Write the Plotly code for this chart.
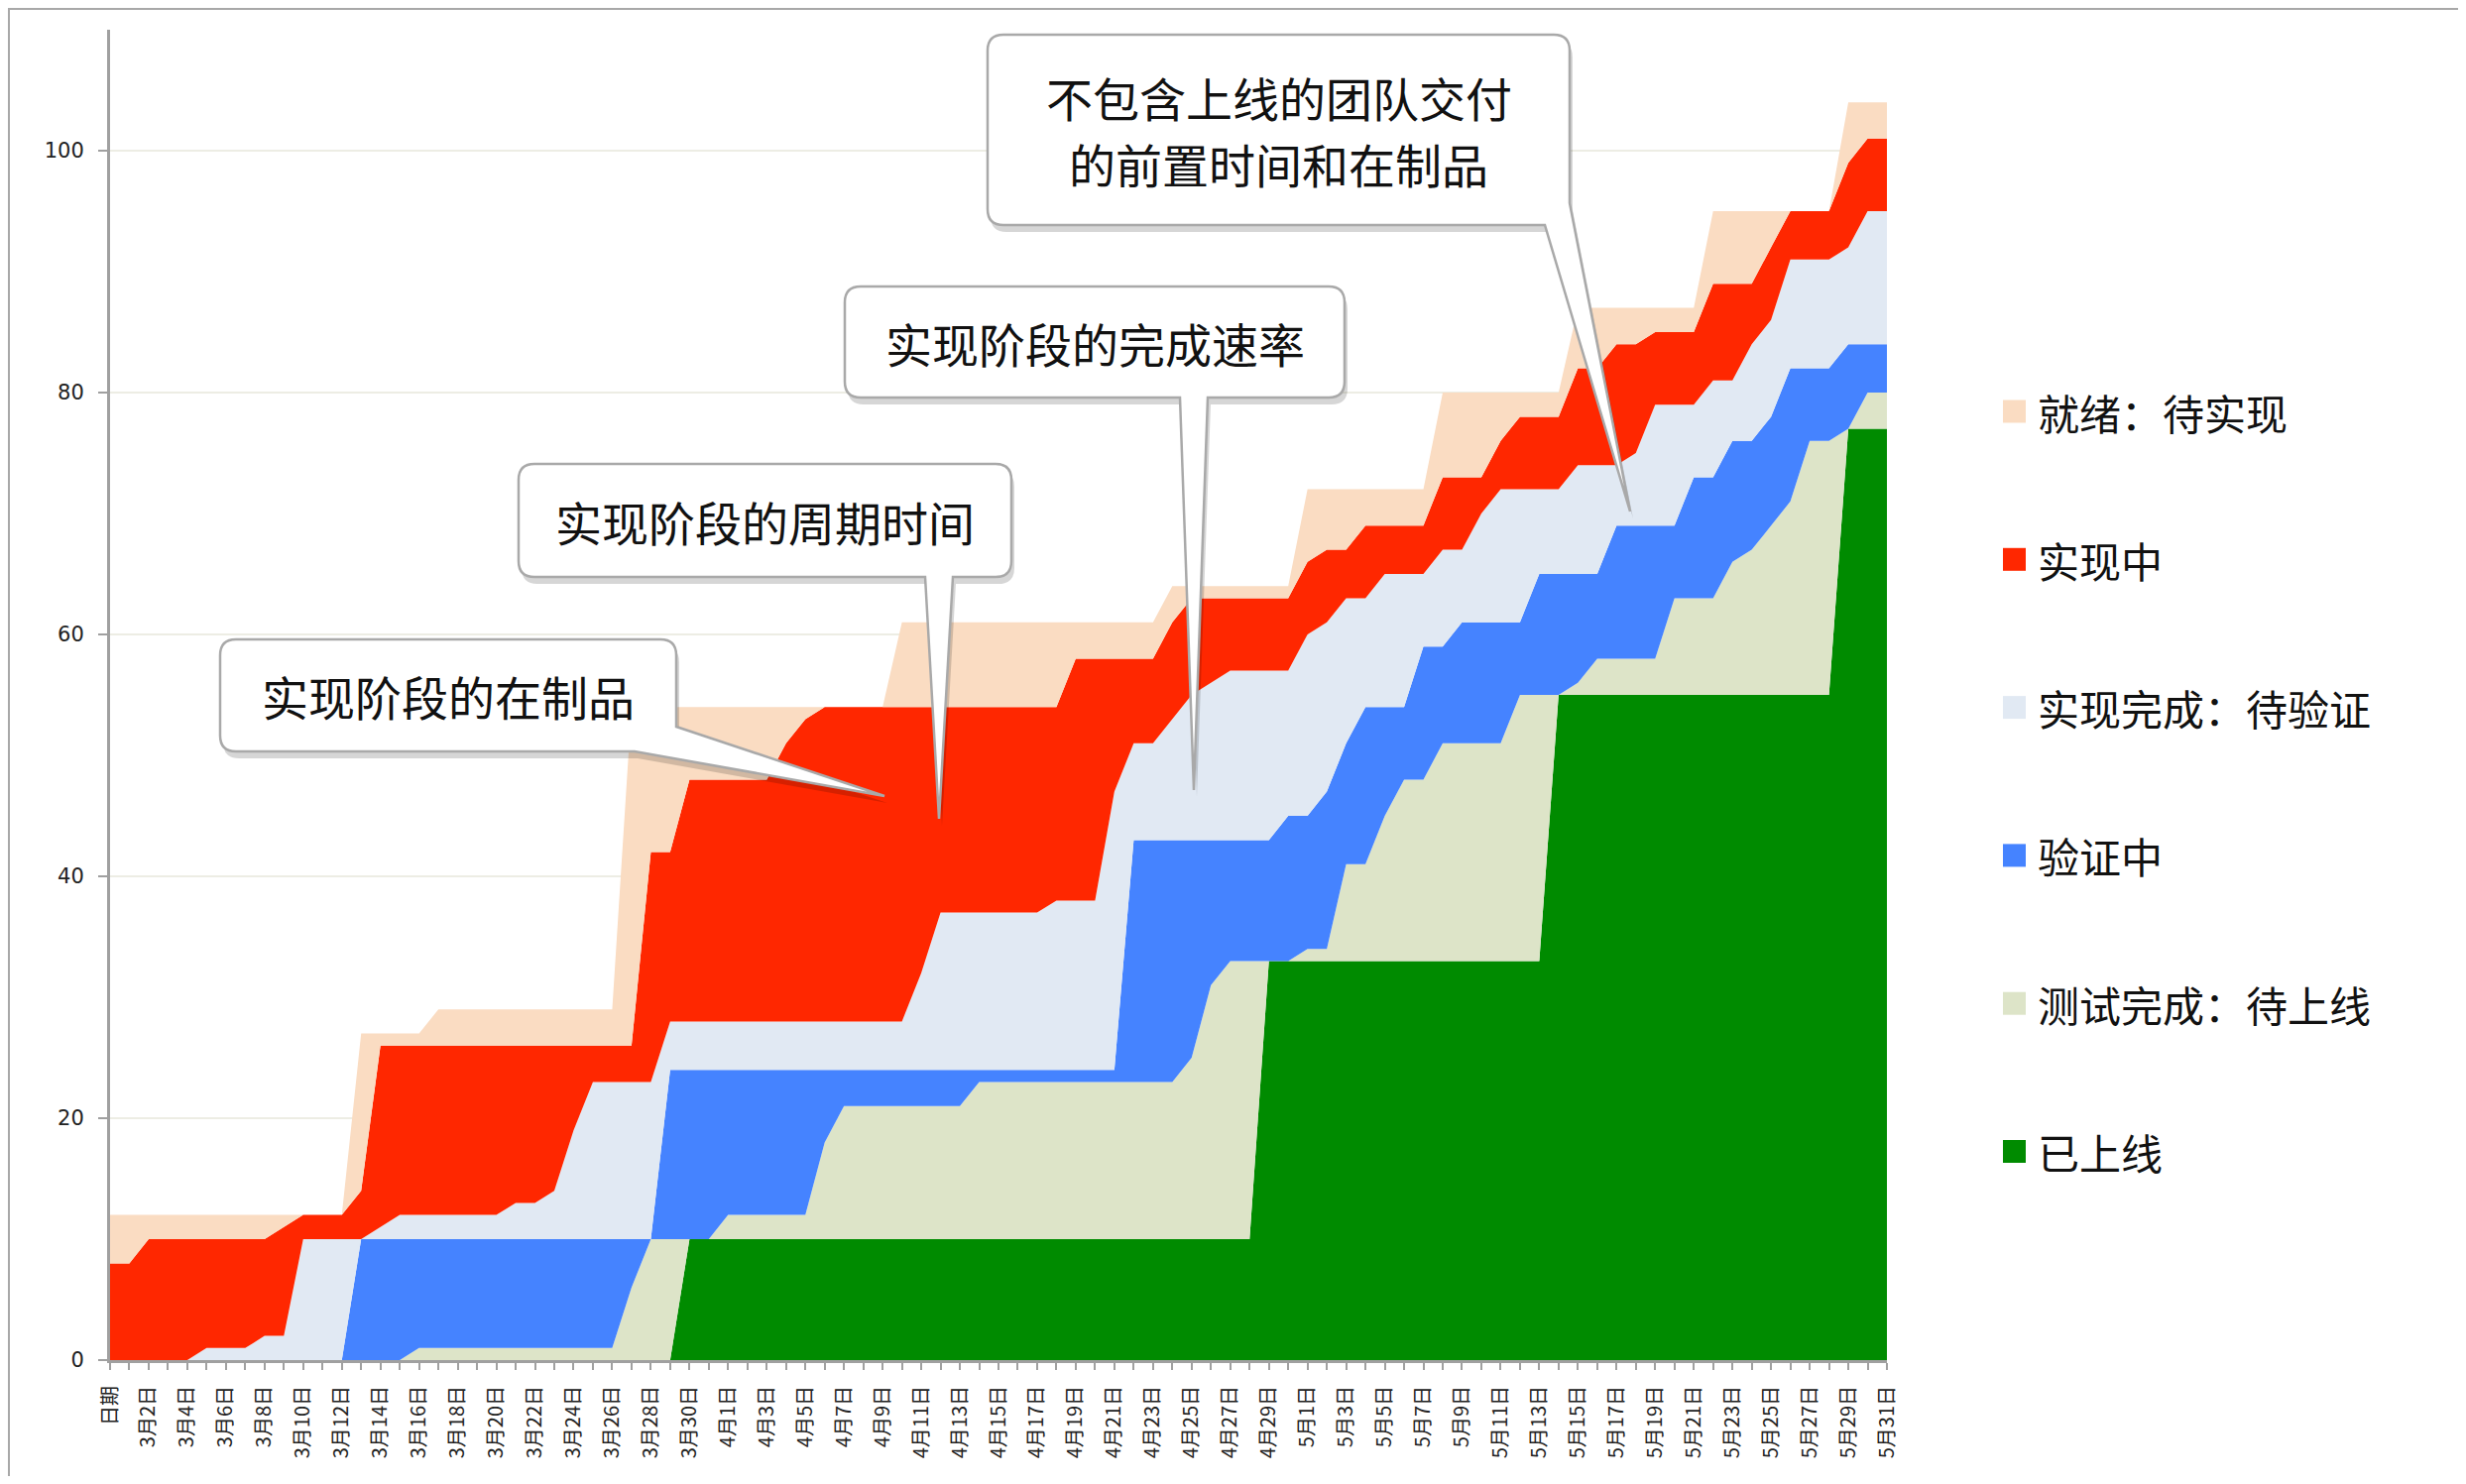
import plotly.graph_objects as go

# x categories: header cell + one entry per day
days = (["日期"]
        + [f"3月{d}日" for d in range(1, 32)]
        + [f"4月{d}日" for d in range(1, 31)]
        + [f"5月{d}日" for d in range(1, 32)])

# cumulative counts per stage (top edge of each band)
deployed = [0, 0, 0, 0, 0, 0, 0, 0, 0, 0,
            0, 0, 0, 0, 0, 0, 0, 0, 0, 0,
            0, 0, 0, 0, 0, 0, 0, 0, 0, 0,
            10, 10, 10, 10, 10, 10, 10, 10, 10, 10,
            10, 10, 10, 10, 10, 10, 10, 10, 10, 10,
            10, 10, 10, 10, 10, 10, 10, 10, 10, 10,
            33, 33, 33, 33, 33, 33, 33, 33, 33, 33,
            33, 33, 33, 33, 33, 55, 55, 55, 55, 55,
            55, 55, 55, 55, 55, 55, 55, 55, 55, 55,
            77, 77, 77]
tested = [0, 0, 0, 0, 0, 0, 0, 0, 0, 0,
          0, 0, 0, 0, 0, 0, 1, 1, 1, 1,
          1, 1, 1, 1, 1, 1, 1, 6, 10, 10,
          10, 10, 12, 12, 12, 12, 12, 18, 21, 21,
          21, 21, 21, 21, 21, 23, 23, 23, 23, 23,
          23, 23, 23, 23, 23, 23, 25, 31, 33, 33,
          33, 33, 34, 34, 41, 41, 45, 48, 48, 51,
          51, 51, 51, 55, 55, 55, 56, 58, 58, 58,
          58, 63, 63, 63, 66, 67, 69, 71, 76, 76,
          77, 80, 80]
verifying = [0, 0, 0, 0, 0, 0, 0, 0, 0, 0,
             0, 0, 0, 10, 10, 10, 10, 10, 10, 10,
             10, 10, 10, 10, 10, 10, 10, 10, 10, 24,
             24, 24, 24, 24, 24, 24, 24, 24, 24, 24,
             24, 24, 24, 24, 24, 24, 24, 24, 24, 24,
             24, 24, 24, 43, 43, 43, 43, 43, 43, 43,
             43, 45, 45, 47, 51, 54, 54, 54, 59, 59,
             61, 61, 61, 61, 65, 65, 65, 65, 69, 69,
             69, 69, 73, 73, 76, 76, 78, 82, 82, 82,
             84, 84, 84]
implemented = [0, 0, 0, 0, 0, 1, 1, 1, 2, 2,
               10, 10, 10, 10, 11, 12, 12, 12, 12, 12,
               12, 13, 13, 14, 19, 23, 23, 23, 23, 28,
               28, 28, 28, 28, 28, 28, 28, 28, 28, 28,
               28, 28, 32, 37, 37, 37, 37, 37, 37, 38,
               38, 38, 47, 51, 51, 53, 55, 56, 57, 57,
               57, 57, 60, 61, 63, 63, 65, 65, 65, 67,
               67, 70, 72, 72, 72, 72, 74, 74, 74, 75,
               79, 79, 79, 81, 81, 84, 86, 91, 91, 91,
               92, 95, 95]
in_dev = [8, 8, 10, 10, 10, 10, 10, 10, 10, 11,
          12, 12, 12, 14, 26, 26, 26, 26, 26, 26,
          26, 26, 26, 26, 26, 26, 26, 26, 42, 42,
          48, 48, 48, 48, 48, 51, 53, 54, 54, 54,
          54, 54, 54, 54, 54, 54, 54, 54, 54, 54,
          58, 58, 58, 58, 58, 61, 63, 63, 63, 63,
          63, 63, 66, 67, 67, 69, 69, 69, 69, 73,
          73, 73, 76, 78, 78, 78, 82, 82, 84, 84,
          85, 85, 85, 89, 89, 89, 92, 95, 95, 95,
          99, 101, 101]
ready = [12, 12, 12, 12, 12, 12, 12, 12, 12, 12,
         12, 12, 12, 27, 27, 27, 27, 29, 29, 29,
         29, 29, 29, 29, 29, 29, 29, 54, 54, 54,
         54, 54, 54, 54, 54, 54, 54, 54, 54, 54,
         54, 61, 61, 61, 61, 61, 61, 61, 61, 61,
         61, 61, 61, 61, 61, 64, 64, 64, 64, 64,
         64, 64, 72, 72, 72, 72, 72, 72, 72, 80,
         80, 80, 80, 80, 80, 80, 87, 87, 87, 87,
         87, 87, 87, 95, 95, 95, 95, 95, 95, 95,
         104, 104, 104]

series_names = ["已上线", "测试完成：待上线", "验证中", "实现完成：待验证", "实现中", "就绪：待实现"]
series_values = [deployed, tested, verifying, implemented, in_dev, ready]
colors = ["#008B00", "#DDE4C8", "#4583FF", "#E1E9F3", "#FF2700", "#FADCC2"]

# one entry per callout, one string per text line
callout_lines = [["实现阶段的在制品"], ["实现阶段的周期时间"], ["实现阶段的完成速率"],
                 ["不包含上线的团队交付", "的前置时间和在制品"]]

# everything below is measured in image pixels; the page body adds an 8px margin
W, H = 2487, 1497
BODY = 8
PL, PR, PT, PB = 111, 1903, 30, 1372
FIG_W, FIG_H = W - 2 * BODY, H - 2 * BODY
CJK = "Noto Sans CJK SC"

def paper(x, y):
    return (x - PL) / (PR - PL), (PB - y) / (PB - PT)

def pt(x, y):
    px_, py_ = paper(x, y)
    return f"{px_:.5f},{py_:.5f}"

def callout_path(box, tail, r=16, dx=0, dy=0):
    x0, y0, x1, y1 = box[0] + dx, box[1] + dy, box[2] + dx, box[3] + dy
    kind, a, tip, b = tail
    a = (a[0] + dx, a[1] + dy)
    tip = (tip[0] + dx, tip[1] + dy)
    b = (b[0] + dx, b[1] + dy)
    p = f"M{pt(x0 + r, y0)} L{pt(x1 - r, y0)} Q{pt(x1, y0)} {pt(x1, y0 + r)} "
    if kind == "corner":
        p += f"L{pt(*a)} L{pt(*tip)} L{pt(*b)} "
    else:
        p += f"L{pt(x1, y1 - r)} Q{pt(x1, y1)} {pt(x1 - r, y1)} "
        p += f"L{pt(*a)} L{pt(*tip)} L{pt(*b)} "
    p += f"L{pt(x0 + r, y1)} Q{pt(x0, y1)} {pt(x0, y1 - r)} "
    p += f"L{pt(x0, y0 + r)} Q{pt(x0, y0)} {pt(x0 + r, y0)} Z"
    return p

callouts = [
    dict(box=(222, 645, 682, 758), tail=("corner", (682, 733), (892, 803), (640, 758))),
    dict(box=(523, 468, 1020, 582), tail=("bottom", (961, 582), (947, 826), (933, 582))),
    dict(box=(852, 289, 1356, 401), tail=("bottom", (1218, 401), (1204, 797), (1190, 401))),
    dict(box=(996, 35, 1583, 227), tail=("corner", (1583, 205), (1644, 516), (1558, 227))),
]

fig = go.Figure()
for k, (name, vals, col) in enumerate(zip(series_names, series_values, colors)):
    fig.add_trace(go.Scatter(
        x=days, y=vals, name=name, mode="lines",
        line=dict(width=0, color=col),
        fill="tozeroy" if k == 0 else "tonexty",
        fillcolor=col, showlegend=False,
    ))

shapes = []
annotations = []

# outer frame
fx0, fy0 = paper(9, 1520)
fx1, fy1 = paper(2481, 9)
shapes.append(dict(type="rect", xref="paper", yref="paper", x0=fx0, y0=fy0, x1=fx1, y1=fy1,
                   line=dict(color="#A8A8A8", width=2), fillcolor="rgba(0,0,0,0)", layer="below"))

LINE_GAP = 67
for c, lines in zip(callouts, callout_lines):
    shapes.append(dict(type="path", xref="paper", yref="paper",
                       path=callout_path(c["box"], c["tail"], dx=3, dy=7),
                       fillcolor="rgba(0,0,0,0.16)", line=dict(width=0)))
    shapes.append(dict(type="path", xref="paper", yref="paper",
                       path=callout_path(c["box"], c["tail"]),
                       fillcolor="white", line=dict(color="#A9A9A9", width=2.5)))
    bx0, by0, bx1, by1 = c["box"]
    mid_y = (by0 + by1) / 2
    for j, line in enumerate(lines):
        ly = mid_y + (j - (len(lines) - 1) / 2) * LINE_GAP
        cx, cy = paper((bx0 + bx1) / 2, ly)
        annotations.append(dict(xref="paper", yref="paper", x=cx, y=cy, text=line,
                                showarrow=False, xanchor="center", yanchor="middle",
                                font=dict(family=CJK, size=47, color="#111111")))

# legend, top of stack first
for k, idx in enumerate(reversed(range(len(series_names)))):
    yc = 415 + 149.3 * k
    sx0, sy0 = paper(2020, yc - 11.5)
    sx1, sy1 = paper(2043, yc + 11.5)
    shapes.append(dict(type="rect", xref="paper", yref="paper", x0=sx0, y0=sy0, x1=sx1, y1=sy1,
                       fillcolor=colors[idx], line=dict(width=0)))
    tx, ty = paper(2053, yc)
    annotations.append(dict(xref="paper", yref="paper", x=tx, y=ty, text=series_names[idx],
                            showarrow=False, xanchor="left", yanchor="middle",
                            font=dict(family=CJK, size=42, color="#111111")))

fig.update_layout(
    width=FIG_W, height=FIG_H,
    margin=dict(l=PL - BODY, r=FIG_W - (PR - BODY), t=PT - BODY, b=FIG_H - (PB - BODY)),
    plot_bgcolor="white", paper_bgcolor="white",
    showlegend=False,
    shapes=shapes, annotations=annotations,
)
fig.update_xaxes(
    type="category", range=[0, len(days) - 1],
    tickvals=days, ticktext=[d if k % 2 == 0 else "" for k, d in enumerate(days)],
    tickangle=-90, tickfont=dict(family=CJK, size=20, color="#222222"),
    ticklabelstandoff=8,
    showline=True, linecolor="#A0A0A0", linewidth=3,
    ticks="outside", ticklen=7, tickwidth=1.5, tickcolor="#A0A0A0",
    showgrid=False, zeroline=False,
)
fig.update_yaxes(
    range=[0, 110], tickvals=[0, 20, 40, 60, 80, 100],
    tickfont=dict(family="DejaVu Sans", size=21, color="#222222"),
    ticklabelstandoff=10,
    showline=True, linecolor="#A0A0A0", linewidth=3,
    ticks="outside", ticklen=9, tickwidth=1.5, tickcolor="#A0A0A0",
    showgrid=True, gridcolor="#EDEDE4", gridwidth=1.5, zeroline=False,
)

fig.write_html("out.html")
